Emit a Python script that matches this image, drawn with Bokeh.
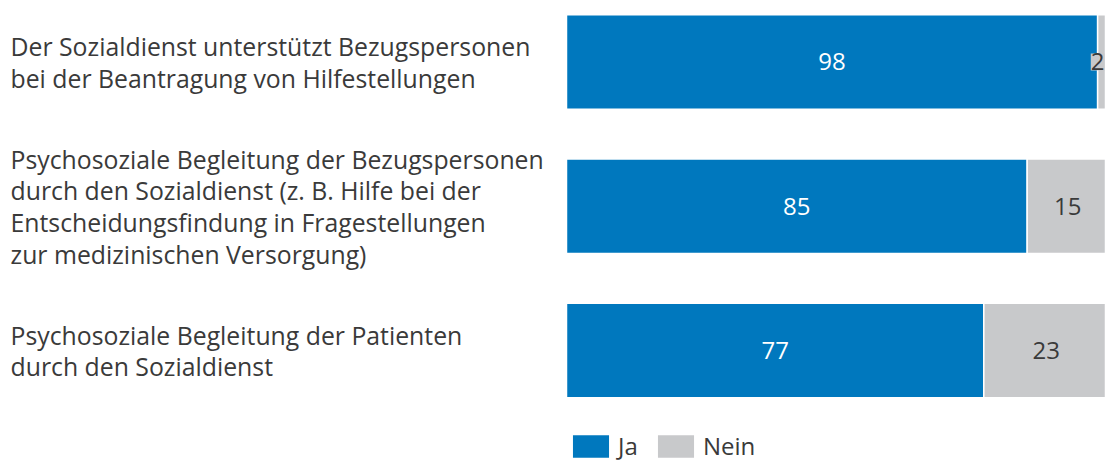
from bokeh.plotting import figure
from bokeh.models import ColumnDataSource, Range1d, Legend, LegendItem
from bokeh.core.properties import value
from bokeh.embed import file_html
from bokeh.resources import INLINE

categories = [
    "Der Sozialdienst unterstützt Bezugspersonen\nbei der Beantragung von Hilfestellungen",
    "Psychosoziale Begleitung der Bezugspersonen\ndurch den Sozialdienst (z. B. Hilfe bei der\nEntscheidungsfindung in Fragestellungen\nzur medizinischen Versorgung)",
    "Psychosoziale Begleitung der Patienten\ndurch den Sozialdienst",
]
ja = [98, 85, 77]
nein = [2, 15, 23]
series_names = ["Ja", "Nein"]

BLUE = "#0078BE"
GRAY = "#C8C9CB"
TEXT = "#3A3A3A"
FONT = "Open Sans"
FS = "24px"
FS_CAT = "24.8px"

X0, X1 = -104.43, 99.45
ypos = list(range(len(categories)))
nein_mid = [a + b / 2 for a, b in zip(ja, nein)]
src = ColumnDataSource(dict(
    y=ypos,
    ja_end=ja,
    nein_end=[a + b for a, b in zip(ja, nein)],
    ja_mid=[a / 2 for a in ja],
    nein_mid=[min(m, X1 - 1.45) for m in nein_mid],
    ja_lbl=[str(v) for v in ja],
    nein_lbl=[str(v) for v in nein],
    cat=categories,
    lx=[X0 + 1.85] * len(categories),
))

p = figure(width=1105, height=462, output_backend="svg", toolbar_location=None,
           x_range=Range1d(X0, X1), y_range=Range1d(2.777, -0.426),
           min_border_left=0, min_border_right=0, min_border_top=0, min_border_bottom=0)
p.axis.visible = False
p.grid.visible = False
p.outline_line_color = None
p.background_fill_color = "white"
p.border_fill_color = "white"

r_ja = p.hbar(y="y", left=0, right="ja_end", height=0.655, source=src,
              fill_color=BLUE, line_color="white", line_width=1.5)
r_nein = p.hbar(y="y", left="ja_end", right="nein_end", height=0.655, source=src,
                fill_color=GRAY, line_color="white", line_width=1.5)

p.text(x="ja_mid", y="y", text="ja_lbl", source=src, text_color="white",
       text_font=value(FONT), text_font_size=FS, text_align="center",
       text_baseline="middle")
p.text(x="nein_mid", y="y", text="nein_lbl", source=src, text_color=TEXT,
       text_font=value(FONT), text_font_size=FS, text_align="center",
       text_baseline="middle", background_fill_color=GRAY)
p.text(x="lx", y="y", text="cat", source=src, text_color=TEXT,
       text_font=value(FONT), text_font_size=FS_CAT, text_align="left",
       text_baseline="middle", text_line_height=0.93)

legend = Legend(items=[LegendItem(label=series_names[0], renderers=[r_ja]),
                       LegendItem(label=series_names[1], renderers=[r_nein])],
                orientation="horizontal", location=(567, 0),
                glyph_width=47, glyph_height=30, label_height=30,
                label_standoff=4, spacing=14, padding=0, margin=0,
                border_line_color=None, background_fill_alpha=0,
                label_text_font=FONT, label_text_font_size=FS,
                label_text_color=TEXT, label_text_baseline="middle")
p.add_layout(legend)

open("out.html", "w").write(file_html(p, INLINE))
